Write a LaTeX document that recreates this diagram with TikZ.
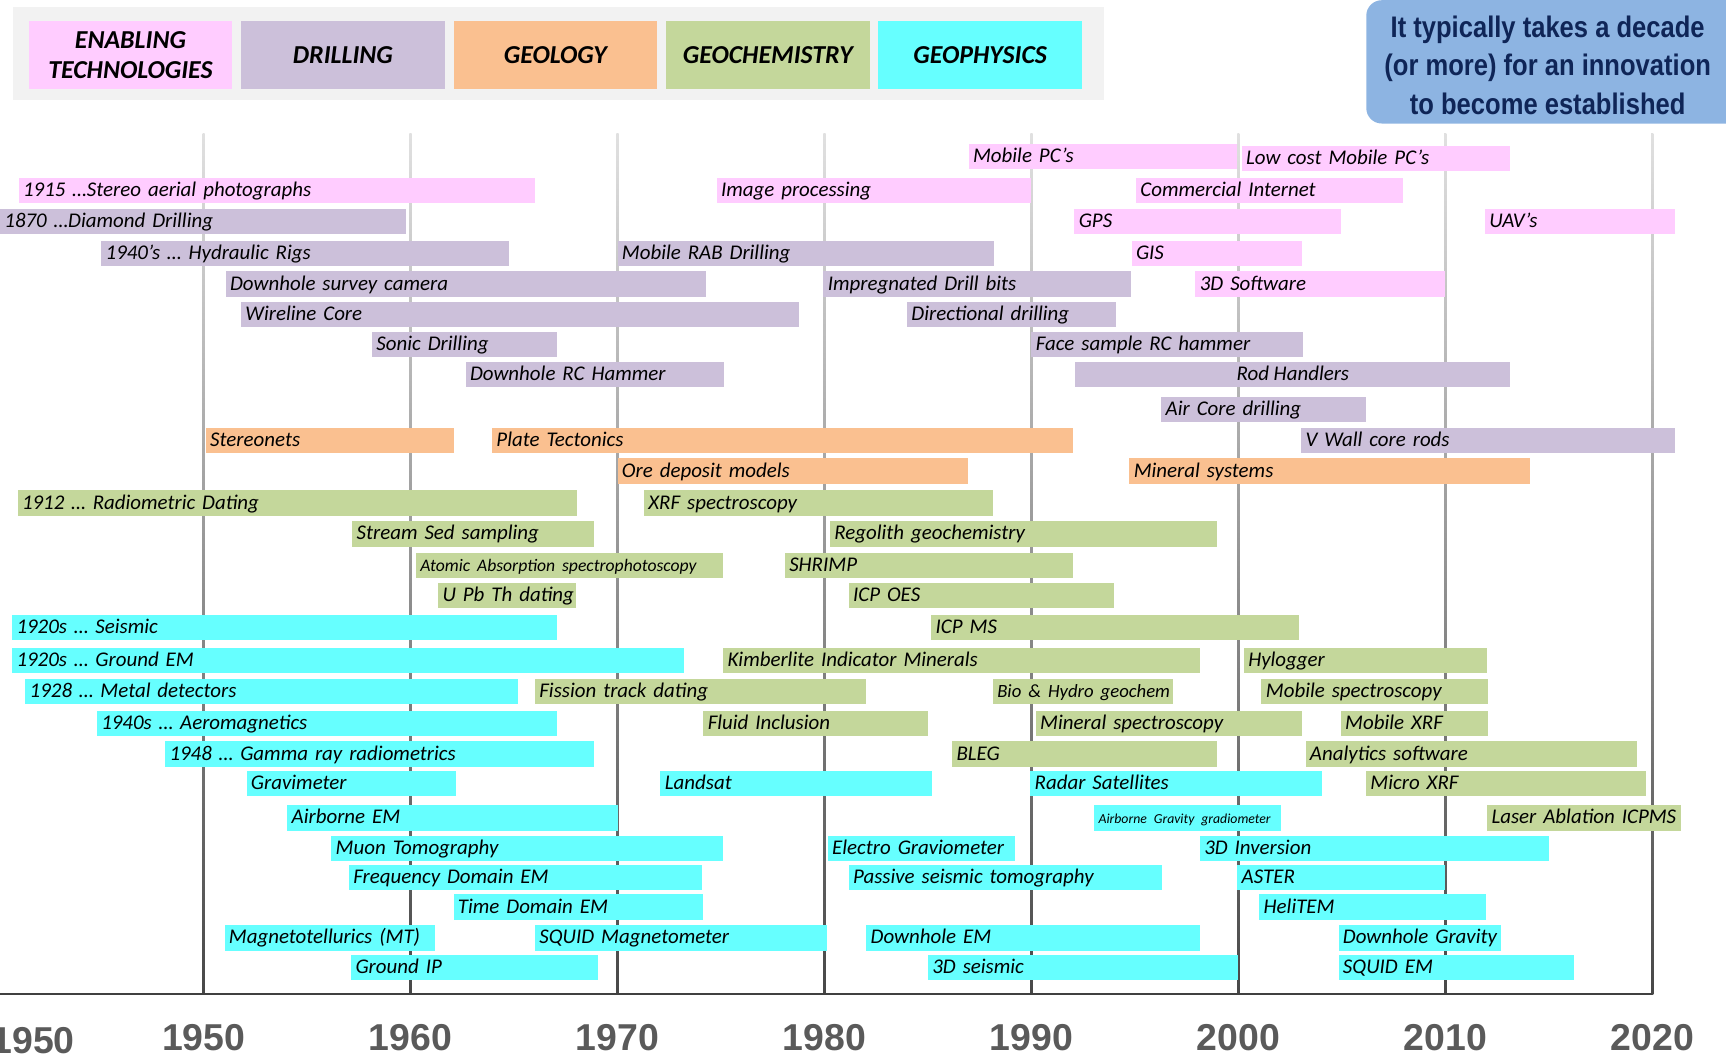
\documentclass[tikz,border=0pt]{standalone}
\usepackage{fontspec}
\setmainfont{Carlito}
\newfontfamily\notefont[FakeStretch=0.86]{Liberation Sans}
\newfontfamily\yearfont{Liberation Sans}
\usetikzlibrary{positioning}

\definecolor{enabling}{HTML}{FFCCFF}
\definecolor{drilling}{HTML}{CCC0DA}
\definecolor{geology}{HTML}{FAC090}
\definecolor{geochem}{HTML}{C4D79B}
\definecolor{geophys}{HTML}{66FFFF}
\definecolor{notefill}{HTML}{8DB4E2}
\definecolor{notetext}{HTML}{0F2557}
\definecolor{yeargray}{HTML}{5A5A5A}

\begin{document}
\begin{tikzpicture}[
      x=1pt, y=-1pt,
      node distance=8pt,
      key/.style={minimum width=185pt, minimum height=62pt, inner sep=0pt, outer sep=0pt,
        align=center, font=\fontsize{23.5}{28}\selectfont\bfseries\itshape},
      bar/.style={anchor=west, minimum height=23pt, inner xsep=4pt, inner ysep=0pt, outer sep=0pt,
        text height=14pt, text depth=3pt, align=left, font=\fontsize{19}{21}\selectfont\itshape},
      yearlabel/.style={anchor=base, inner sep=0pt, text=yeargray,
        font=\fontsize{34}{36}\selectfont\yearfont\bfseries}
    ]
    \useasboundingbox (0,0) rectangle (1568,959);

    % legend
    \fill[black!5] (12,6) rectangle (1003,91);
    \node[key, fill=enabling] (enab) at (118.5,50) {ENABLING\\TECHNOLOGIES};
    \node[key, fill=drilling, right=of enab] (drill) {DRILLING};
    \node[key, fill=geology, right=of drill] (geol) {GEOLOGY};
    \node[key, fill=geochem, right=of geol] (chem) {GEOCHEMISTRY};
    \node[key, fill=geophys, right=of chem] (phys) {GEOPHYSICS};

    % callout
    \node[fill=notefill, rounded corners=14pt, anchor=north west, minimum width=345pt,
      minimum height=112pt, inner sep=0pt] (note) at (1241,0) {};
    \node[inner sep=0pt, align=center, text=notetext,
      font=\fontsize{27}{35}\selectfont\notefont\bfseries] (notetxt) at (1406,59)
      {It typically takes a decade\\(or more) for an innovation\\to become established};

    % decade grid and years
    \foreach \yr [count=\k from 0] in {1950,1960,...,2020} {
      \shade[top color=black!12, bottom color=black!72]
        ({184+188*\k},121) rectangle ({186+188*\k},903);
      \node[yearlabel] (yr\yr) at ({185+188*\k},954) {\yr};
    }
    \node[yearlabel] (yrleft) at (30,957) {1950};
    \draw[line width=2.5pt, black!75] (0,903) -- (1501,903);

    % bars: start / end / row / colour / text
    \foreach \a/\b/\y/\c/\t [count=\i] in {
      880/1124/142/enabling/{Mobile PC’s},
      1128/1372/144/enabling/{Low cost Mobile PC’s},
      17/486/173/enabling/{1915 …Stereo aerial photographs},
      651/937/173/enabling/{Image processing},
      1032/1275/173/enabling/{Commercial Internet},
      976/1218/201/enabling/{GPS},
      1349/1522/201/enabling/{UAV’s},
      1028/1183/230/enabling/{GIS},
      1086/1313/258/enabling/{3D Software},
      0/369/201/drilling/{1870 …Diamond Drilling},
      92/462/230/drilling/{1940’s … Hydraulic Rigs},
      561/903/230/drilling/{Mobile RAB Drilling},
      205/641/258/drilling/{Downhole survey camera},
      748/1027/258/drilling/{Impregnated Drill bits},
      219/726/286/drilling/{Wireline Core},
      824/1014/286/drilling/{Directional drilling},
      338/506/313/drilling/{Sonic Drilling},
      937/1184/313/drilling/{Face sample RC hammer},
      423/658/340/drilling/{Downhole RC Hammer},
      1055/1241/372/drilling/{Air Core drilling},
      1182/1522/400/drilling/{V Wall core rods},
      187/412/400/geology/{Stereonets},
      447/975/400/geology/{Plate Tectonics},
      561/879/428/geology/{Ore deposit models},
      1026/1390/428/geology/{Mineral systems},
      16/524/457/geochem/{1912 … Radiometric Dating},
      585/902/457/geochem/{XRF spectroscopy},
      320/540/485/geochem/{Stream Sed sampling},
      754/1106/485/geochem/{Regolith geochemistry},
      378/657/514/geochem/{\fontsize{16}{18}\selectfont Atomic Absorption spectrophotoscopy},
      713/975/514/geochem/{SHRIMP},
      398/523/541/geochem/{U Pb Th dating},
      771/1012/541/geochem/{ICP OES},
      846/1180/570/geochem/{ICP MS},
      657/1090/600/geochem/{Kimberlite Indicator Minerals},
      1130/1351/600/geochem/{Hylogger},
      486/787/628/geochem/{Fission track dating},
      902/1066/628/geochem/{\fontsize{17}{19}\selectfont Bio \& Hydro geochem},
      1146/1352/628/geochem/{Mobile spectroscopy},
      639/843/657/geochem/{Fluid Inclusion},
      941/1183/657/geochem/{Mineral spectroscopy},
      1218/1352/657/geochem/{Mobile XRF},
      865/1106/685/geochem/{BLEG},
      1186/1487/685/geochem/{Analytics software},
      1241/1495/712/geochem/{Micro XRF},
      1351/1527/743/geochem/{Laser Ablation ICPMS},
      11/506/570/geophys/{1920s … Seismic},
      11/621/600/geophys/{1920s … Ground EM},
      23/471/628/geophys/{1928 … Metal detectors},
      88/506/657/geophys/{1940s … Aeromagnetics},
      150/540/685/geophys/{1948 … Gamma ray radiometrics},
      224/414/712/geophys/{Gravimeter},
      600/847/712/geophys/{Landsat},
      936/1201/712/geophys/{Radar Satellites},
      261/561/743/geophys/{Airborne EM},
      994/1164/743/geophys/{\fontsize{12.5}{14}\selectfont Airborne Gravity gradiometer},
      301/657/771/geophys/{Muon Tomography},
      752/922/771/geophys/{Electro Graviometer},
      1090/1407/771/geophys/{3D Inversion},
      317/638/797/geophys/{Frequency Domain EM},
      771/1056/797/geophys/{Passive seismic tomography},
      1124/1313/797/geophys/{ASTER},
      412/639/824/geophys/{Time Domain EM},
      1144/1350/824/geophys/{HeliTEM},
      204/395/852/geophys/{Magnetotellurics (MT)},
      486/751/852/geophys/{SQUID Magnetometer},
      787/1090/852/geophys/{Downhole EM},
      1216/1364/852/geophys/{Downhole Gravity},
      319/543/879/geophys/{Ground IP},
      843/1125/879/geophys/{3D seismic},
      1216/1430/879/geophys/{SQUID EM}} {
      \pgfmathsetmacro\w{\b-\a-8}
      \node[bar, fill=\c, text width=\w pt] (bar\i) at (\a,\y) {\mbox{\t}};
    }
    \node[bar, fill=drilling, minimum width=395pt] (rods) at (977,340) {Rod Handlers};
  \end{tikzpicture}
\end{document}
